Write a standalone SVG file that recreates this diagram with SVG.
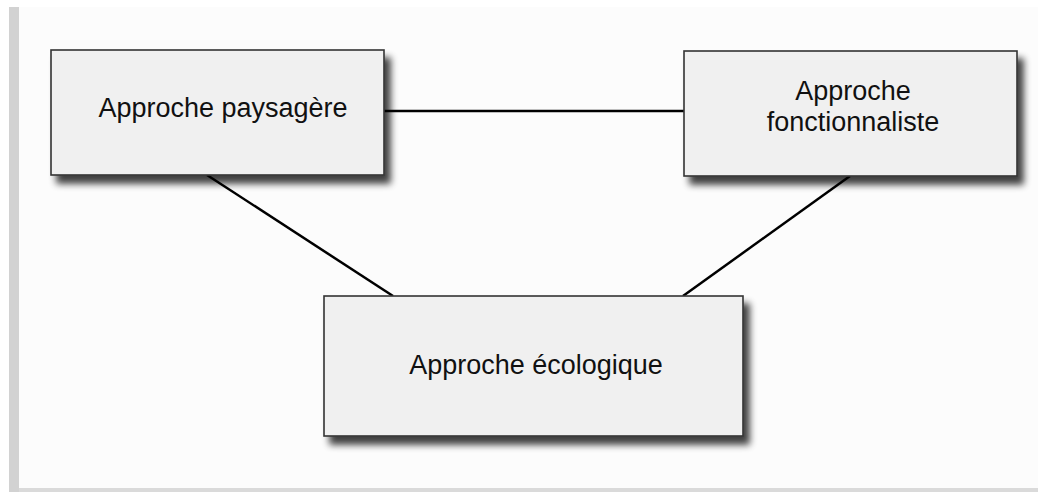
<svg xmlns="http://www.w3.org/2000/svg" width="1038" height="492" viewBox="0 0 1038 492">
  <defs>
    <filter id="shadow" x="-10%" y="-10%" width="130%" height="140%">
      <feGaussianBlur in="SourceAlpha" stdDeviation="3.5"/>
      <feOffset dx="6" dy="8" result="b"/>
      <feComponentTransfer><feFuncA type="linear" slope="0.75"/></feComponentTransfer>
      <feMerge><feMergeNode/><feMergeNode in="SourceGraphic"/></feMerge>
    </filter>
  </defs>
  <style>
    .box { fill: #f0f0f0; stroke: #333333; stroke-width: 1.6; filter: url(#shadow); }
    .label { font-family: "Liberation Sans", Arial, sans-serif; font-size: 27px; fill: #111111; text-anchor: middle; }
    .conn { stroke: #000000; stroke-width: 2.5; fill: none; }
  </style>
  <rect x="0" y="0" width="1038" height="492" fill="#ffffff"/>
  <rect x="19" y="7" width="1019" height="482" fill="#fcfcfc"/>
  <rect x="9" y="7" width="10" height="485" fill="#d2d2d2"/>
  <rect x="19" y="488" width="1019" height="4" fill="#dadada"/>

  <g id="connectors">
    <line class="conn" x1="384" y1="111" x2="684" y2="111"/>
    <line class="conn" x1="207" y1="175" x2="393" y2="296"/>
    <line class="conn" x1="850" y1="176" x2="683" y2="296"/>
  </g>

  <g id="node-paysagere">
    <rect class="box" x="51" y="50" width="333" height="125"/>
    <text class="label" x="223" y="117">Approche paysagère</text>
  </g>

  <g id="node-fonctionnaliste">
    <rect class="box" x="684" y="51" width="333" height="125"/>
    <text class="label" x="853" y="100">Approche</text>
    <text class="label" x="853" y="131">fonctionnaliste</text>
  </g>

  <g id="node-ecologique">
    <rect class="box" x="324" y="296" width="419" height="140"/>
    <text class="label" x="536" y="374">Approche écologique</text>
  </g>
</svg>
